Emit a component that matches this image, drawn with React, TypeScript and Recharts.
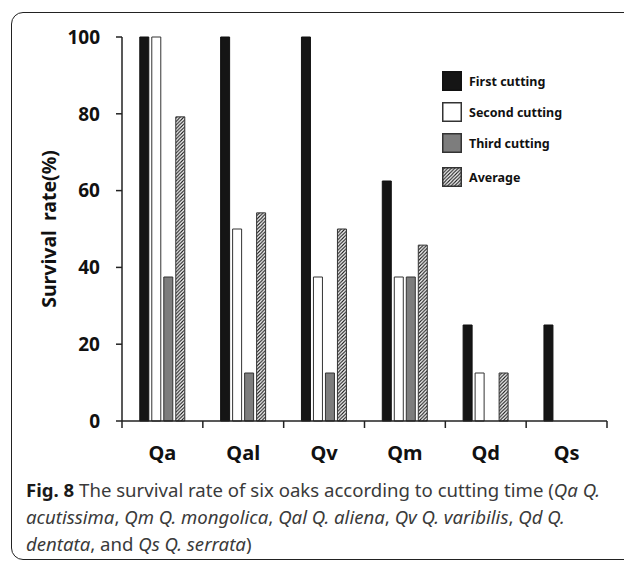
import React from 'react';
import { BarChart, Bar, XAxis, YAxis, Legend } from 'recharts';

const CATEGORIES = ['Qa', 'Qal', 'Qv', 'Qm', 'Qd', 'Qs'];
const FIRST_CUTTING = [100, 100, 100, 62.5, 25, 25];
const SECOND_CUTTING = [100, 50, 37.5, 37.5, 12.5, 0];
const THIRD_CUTTING = [37.5, 12.5, 12.5, 37.5, 0, 0];
const AVERAGE = [79.2, 54.2, 50, 45.8, 12.5, 0];
const Y_TICKS = [0, 20, 40, 60, 80, 100];

const SERIES = [
  { key: 'first', name: 'First cutting', fill: '#151515', stroke: '#111' },
  { key: 'second', name: 'Second cutting', fill: '#ffffff', stroke: '#333' },
  { key: 'third', name: 'Third cutting', fill: '#7d7d7d', stroke: '#333' },
  { key: 'average', name: 'Average', fill: 'url(#hatch)', stroke: '#333' },
];

const data = CATEGORIES.map((name, i) => ({
  name,
  first: FIRST_CUTTING[i],
  second: SECOND_CUTTING[i],
  third: THIRD_CUTTING[i],
  average: AVERAGE[i],
}));

const FONT = '"Noto Sans", "DejaVu Sans", sans-serif';

// category label at the centre, tick marks on the category boundaries
const XTick = (props: any) => {
  const { x, y, payload, index, visibleTicksCount, width } = props;
  const half = payload.offset || width / visibleTicksCount / 2;
  const last = index === visibleTicksCount - 1;
  return (
    <g>
      <line x1={x - half} y1={y} x2={x - half} y2={y + 7} stroke="#222" strokeWidth={1.5} />
      {last && <line x1={x + half} y1={y} x2={x + half} y2={y + 7} stroke="#222" strokeWidth={1.5} />}
      <text x={x} y={y + 39} textAnchor="middle" fontFamily={FONT} fontWeight={700} fontSize={20} fill="#111">
        {payload.value}
      </text>
    </g>
  );
};

const YLabel = (props: any) => {
  const { viewBox } = props;
  const cx = viewBox.x + 48;
  const cy = viewBox.y + viewBox.height / 2;
  return (
    <text
      x={cx}
      y={cy}
      transform={`rotate(-90, ${cx}, ${cy})`}
      textAnchor="middle"
      dominantBaseline="central"
      fontFamily={FONT}
      fontWeight={700}
      fontSize={19.5}
      fill="#111"
      style={{ wordSpacing: 4 }}
    >
      Survival rate(%)
    </text>
  );
};

const LegendBox = () => (
  <div style={{ fontFamily: FONT }}>
    {SERIES.map((s, i) => (
      <div key={s.key} style={{ display: 'flex', alignItems: 'center', height: 20, marginBottom: i === 2 ? 14 : 11 }}>
        <svg width={20} height={20} style={{ display: 'block' }}>
          <rect x={0.75} y={0.75} width={18.5} height={18.5} fill={s.fill} stroke={s.stroke} strokeWidth={1.5} />
        </svg>
        <span style={{ marginLeft: 7, fontSize: 12.5, fontWeight: 700, color: '#111' }}>{s.name}</span>
      </div>
    ))}
  </div>
);

export default function App() {
  return (
    <div style={{ position: 'fixed', left: 0, top: 0, width: 624, height: 561, overflow: 'hidden', background: '#fff' }}>
      <div
        style={{
          position: 'absolute',
          left: 11,
          top: 12,
          width: 700,
          height: 548,
          border: '1.5px solid #222',
          borderRadius: 12,
          boxSizing: 'border-box',
        }}
      />
      <div style={{ position: 'absolute', left: 0, top: 0 }}>
        <BarChart
          width={624}
          height={480}
          data={data}
          margin={{ top: 37, right: 17, left: 0, bottom: 0 }}
          barCategoryGap="22%"
          barGap={3}
        >
          <defs>
            <pattern id="hatch" patternUnits="userSpaceOnUse" width={3.5} height={3.5}>
              <rect width={3.5} height={3.5} fill="#fff" />
              <path d="M-1,1 l2,-2 M0,3.5 l3.5,-3.5 M2.5,4.5 l2,-2" stroke="#1a1a1a" strokeWidth={1.1} />
            </pattern>
          </defs>
          <XAxis
            dataKey="name"
            height={59}
            tickSize={0}
            tickMargin={0}
            tickLine={false}
            interval={0}
            axisLine={{ stroke: '#222', strokeWidth: 1.5 }}
            tick={<XTick />}
          />
          <YAxis
            width={122}
            domain={[0, 100]}
            ticks={Y_TICKS}
            tickSize={6}
            tickMargin={16}
            axisLine={{ stroke: '#222', strokeWidth: 1.5 }}
            tickLine={{ stroke: '#222', strokeWidth: 1.5 }}
            tick={{ fontFamily: FONT, fontWeight: 700, fontSize: 19, fill: '#111' }}
            label={<YLabel />}
          />
          <Legend
            layout="vertical"
            align="center"
            verticalAlign="middle"
            content={<LegendBox />}
            wrapperStyle={{ left: 442, top: 71, width: 170 }}
          />
          {SERIES.map((s) => (
            <Bar
              key={s.key}
              dataKey={s.key}
              name={s.name}
              fill={s.fill}
              stroke={s.stroke}
              strokeWidth={1}
              isAnimationActive={false}
            />
          ))}
        </BarChart>
      </div>
      <div
        style={{
          position: 'absolute',
          left: 26,
          top: 476,
          fontFamily: FONT,
          fontSize: 18.6,
          lineHeight: '27px',
          color: '#3a3a3a',
          whiteSpace: 'nowrap',
        }}
      >
        <b style={{ color: '#1a1a1a' }}>Fig. 8</b> The survival rate of six oaks according to cutting time (<i>Qa Q.</i>
        <br />
        <i>acutissima</i>, <i>Qm Q. mongolica</i>, <i>Qal Q. aliena</i>, <i>Qv Q. varibilis</i>, <i>Qd Q.</i>
        <br />
        <i>dentata</i>, and <i>Qs Q. serrata</i>)
      </div>
    </div>
  );
}
